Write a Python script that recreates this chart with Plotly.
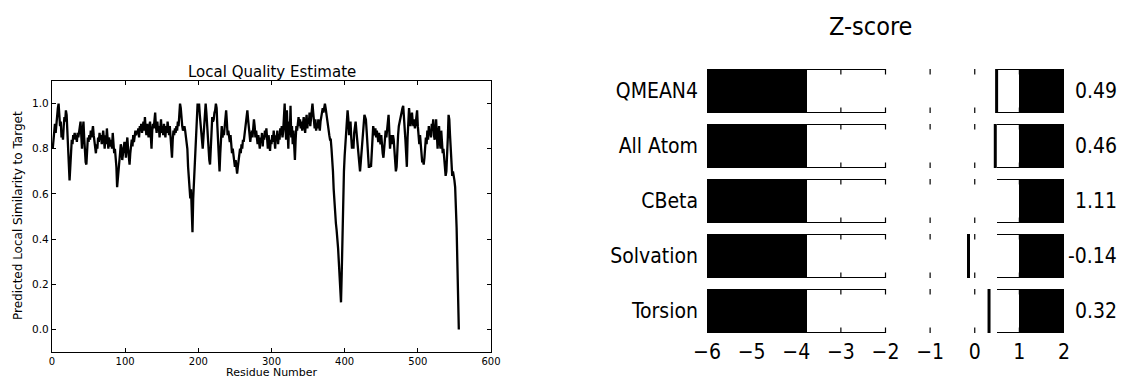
import plotly.graph_objects as go

# ---------------- data ----------------
local_quality = [
    0.80,0.83,0.88,0.91,0.87,0.92,0.95,0.98,1.00,0.93,0.90,0.92,0.85,0.88,0.84,0.90,0.94,0.92,0.97,0.95,
    0.88,0.83,0.74,0.66,0.72,0.80,0.84,0.82,0.86,0.85,0.87,0.84,0.86,0.83,0.87,0.85,0.88,0.91,0.92,0.86,
    0.80,0.88,0.92,0.85,0.78,0.74,0.73,0.78,0.85,0.83,0.86,0.84,0.88,0.85,0.87,0.90,0.86,0.84,0.80,0.78,
    0.82,0.80,0.85,0.83,0.87,0.84,0.86,0.82,0.85,0.88,0.84,0.80,0.86,0.82,0.89,0.84,0.80,0.85,0.83,0.81,
    0.84,0.80,0.87,0.82,0.78,0.80,0.76,0.72,0.63,0.66,0.70,0.74,0.78,0.82,0.80,0.75,0.77,0.80,0.83,0.81,
    0.76,0.82,0.85,0.80,0.76,0.73,0.78,0.80,0.84,0.81,0.86,0.83,0.85,0.88,0.86,0.88,0.87,0.89,0.85,0.90,
    0.88,0.91,0.87,0.90,0.92,0.88,0.94,0.89,0.86,0.91,0.88,0.85,0.90,0.92,0.86,0.80,0.88,0.91,0.89,0.93,
    0.96,0.90,0.87,0.92,0.88,0.90,0.85,0.89,0.93,0.87,0.90,0.86,0.91,0.88,0.85,0.90,0.87,0.92,0.89,0.86,
    0.90,0.84,0.80,0.76,0.84,0.88,0.86,0.89,0.87,0.90,0.88,0.92,0.90,0.95,1.00,0.98,0.92,0.90,0.88,0.89,
    0.90,0.88,0.86,0.84,0.80,0.72,0.66,0.60,0.58,0.62,0.50,0.43,0.58,0.65,0.75,0.82,0.90,0.96,1.00,0.98,
    1.00,0.95,0.90,0.86,0.82,0.80,0.85,0.92,0.98,1.00,0.96,0.90,0.85,0.80,0.75,0.73,0.80,0.88,0.94,0.92,
    0.93,0.96,0.97,1.00,0.98,0.90,0.80,0.72,0.70,0.78,0.88,0.90,0.85,0.87,0.86,0.90,0.95,0.97,0.92,0.86,
    0.88,0.85,0.83,0.86,0.82,0.78,0.80,0.76,0.74,0.72,0.75,0.71,0.69,0.72,0.76,0.78,0.80,0.78,0.82,0.80,
    0.84,0.83,0.86,0.88,0.92,0.95,0.97,0.93,0.90,0.86,0.83,0.86,0.88,0.85,0.90,0.93,0.90,0.85,0.88,0.84,
    0.82,0.86,0.84,0.80,0.85,0.83,0.87,0.81,0.86,0.84,0.88,0.85,0.89,0.84,0.80,0.86,0.83,0.79,0.84,0.82,
    0.86,0.83,0.88,0.85,0.80,0.86,0.84,0.88,0.82,0.86,0.84,0.89,0.86,0.90,0.85,0.88,0.92,1.00,0.90,0.84,
    0.97,0.88,0.80,0.92,0.86,0.99,0.85,0.90,0.82,0.88,0.78,0.75,0.84,0.90,0.88,0.92,0.94,0.90,0.93,0.89,
    0.92,0.88,0.91,0.94,0.90,0.87,0.92,0.95,0.89,0.93,0.91,0.96,0.90,0.94,0.97,1.00,0.96,0.92,0.89,0.93,
    0.88,0.91,0.89,0.93,0.90,0.88,0.92,0.95,0.97,0.98,0.96,0.99,1.00,0.98,0.95,0.92,0.90,0.88,0.86,0.84,
    0.84,0.80,0.76,0.70,0.62,0.55,0.50,0.47,0.44,0.41,0.36,0.30,0.24,0.18,0.12,0.25,0.45,0.60,0.70,0.77,
    0.82,0.88,0.92,0.97,0.93,0.86,0.90,0.92,0.85,0.80,0.84,0.80,0.87,0.90,0.92,0.88,0.84,0.80,0.76,0.72,
    0.70,0.74,0.78,0.84,0.88,0.92,0.95,0.94,0.93,0.88,0.82,0.76,0.72,0.72,0.73,0.72,0.78,0.86,0.90,0.88,
    0.86,0.89,0.85,0.88,0.86,0.83,0.87,0.85,0.82,0.86,0.80,0.78,0.76,0.82,0.86,0.88,0.85,0.90,0.93,0.95,
    0.88,0.80,0.84,0.86,0.82,0.86,0.84,0.80,0.75,0.70,0.72,0.82,0.86,0.90,0.92,0.93,0.95,0.97,0.98,0.99,
    0.95,0.90,0.84,0.78,0.72,0.85,0.95,0.98,0.94,0.90,0.93,0.96,0.92,0.90,0.93,0.89,0.91,0.94,0.97,0.90,
    0.86,0.82,0.86,0.80,0.76,0.74,0.75,0.73,0.76,0.80,0.85,0.82,0.88,0.84,0.90,0.86,0.88,0.85,0.91,0.88,
    0.93,0.86,0.84,0.88,0.93,0.86,0.80,0.86,0.90,0.83,0.80,0.88,0.82,0.78,0.80,0.76,0.72,0.68,0.70,0.75,
    0.85,0.95,0.93,0.86,0.78,0.72,0.68,0.70,0.66,0.66,0.63,0.55,0.45,0.30,0.15,0.00,
]
residues = list(range(1, len(local_quality) + 1))
lq_xticks = [0, 100, 200, 300, 400, 500, 600]
lq_yticks = [0.0, 0.2, 0.4, 0.6, 0.8, 1.0]

categories = ["QMEAN4", "All Atom", "CBeta", "Solvation", "Torsion"]
z_scores = [0.49, 0.46, 1.11, -0.14, 0.32]
z_labels = ["0.49", "0.46", "1.11", "-0.14", "0.32"]
z_ticks = [-6, -5, -4, -3, -2, -1, 0, 1, 2]
z_tick_text = ["\u22126", "\u22125", "\u22124", "\u22123", "\u22122", "\u22121", "0", "1", "2"]
band_outer = (-6, 2)
band_good = (-3.75, 1)
band_core = (-2, 0.5)

W, H = 1123, 378
def px_x(p): return p / W
def px_y(p): return 1 - p / H

fig = go.Figure()

# ---------- left: local quality ----------
fig.add_trace(go.Scatter(x=residues, y=local_quality, mode="lines",
                         line=dict(color="black", width=2.3), xaxis="x", yaxis="y",
                         showlegend=False, hoverinfo="skip"))

# ---------- right: z-score bars ----------
n = len(categories)
ypos = [n - 1 - i for i in range(n)]
fig.add_trace(go.Bar(orientation="h", y=ypos, x=[band_outer[1] - band_outer[0]] * n,
                     base=[band_outer[0]] * n, width=0.8, marker=dict(color="black", line=dict(width=0)),
                     xaxis="x2", yaxis="y2", showlegend=False, hoverinfo="skip"))
fig.add_trace(go.Bar(orientation="h", y=ypos, x=[band_good[1] - band_good[0]] * n,
                     base=[band_good[0]] * n, width=0.75, marker=dict(color="white", line=dict(width=0)),
                     xaxis="x2", yaxis="y2", showlegend=False, hoverinfo="skip"))
fig.add_trace(go.Bar(orientation="h", y=ypos, x=[band_core[1] - band_core[0]] * n,
                     base=[band_core[0]] * n, width=0.79, marker=dict(color="white", line=dict(width=0)),
                     xaxis="x2", yaxis="y2", showlegend=False, hoverinfo="skip"))

# score markers
for yv, s in zip(ypos, z_scores):
    fig.add_trace(go.Scatter(x=[s, s], y=[yv - 0.4, yv + 0.4], mode="lines",
                             line=dict(color="black", width=3),
                             xaxis="x2", yaxis="y2", showlegend=False, hoverinfo="skip"))

# per-row tick marks (top and bottom of every row), drawn above the bars
shapes = []
for yv in ypos:
    for t in z_ticks:
        for sgn in (1, -1):
            shapes.append(dict(type="line", xref="x2", yref="y2", x0=t, x1=t,
                               y0=yv + sgn * 0.4, y1=yv + sgn * 0.3, layer="above",
                               line=dict(color="black", width=1.2)))

left_font = "DejaVu Sans, Verdana, sans-serif"
right_font = "DejaVu Sans Condensed, DejaVu Sans, sans-serif"

axis_common = dict(showline=True, linecolor="black", linewidth=1.2, mirror="ticks",
                   ticks="inside", ticklen=4, tickcolor="black", showgrid=False, zeroline=False,
                   automargin=False)

fig.update_layout(
    width=W, height=H, margin=dict(l=0, r=0, t=0, b=0, autoexpand=False),
    paper_bgcolor="white", plot_bgcolor="white", barmode="overlay", bargap=0,
    shapes=shapes,
    xaxis=dict(domain=[px_x(52), px_x(491)], range=[0, 600], tickvals=lq_xticks,
               tickfont=dict(family=left_font, size=10, color="black"),
               anchor="y", **axis_common),
    yaxis=dict(domain=[px_y(352), px_y(81)], range=[-0.1, 1.1], tickvals=lq_yticks,
               tickformat=".1f", tickfont=dict(family=left_font, size=10.5, color="black"),
               anchor="x", **axis_common),
    xaxis2=dict(domain=[px_x(707), px_x(1064)], range=[-6, 2], tickvals=z_ticks, ticktext=z_tick_text,
                ticks="", showline=False, showgrid=False, zeroline=False, anchor="y2", automargin=False,
                ticklabelstandoff=4,
                tickfont=dict(family=right_font, size=21, color="black")),
    yaxis2=dict(domain=[px_y(333), px_y(69)], range=[-0.4, 4.4], tickvals=ypos, ticktext=categories,
                ticks="", showline=False, showgrid=False, zeroline=False, anchor="x2", automargin=False,
                ticklabelstandoff=8,
                tickfont=dict(family=right_font, size=21, color="black")),
    annotations=[
        dict(text="Local Quality Estimate", x=px_x(271.5), y=px_y(72), xref="paper", yref="paper",
             showarrow=False, font=dict(family=left_font, size=15, color="black"),
             xanchor="center", yanchor="middle"),
        dict(text="Residue Number", x=px_x(271.5), y=px_y(372), xref="paper", yref="paper",
             showarrow=False, font=dict(family=left_font, size=11, color="black"),
             xanchor="center", yanchor="middle"),
        dict(text="Predicted Local Similarity to Target", x=px_x(18), y=px_y(216), xref="paper", yref="paper",
             showarrow=False, textangle=-90, font=dict(family=left_font, size=12, color="black"),
             xanchor="center", yanchor="middle"),
        dict(text="Z-score", x=px_x(870), y=px_y(27), xref="paper", yref="paper",
             showarrow=False, font=dict(family=right_font, size=25, color="black"),
             xanchor="center", yanchor="middle"),
    ] + [
        dict(text=lab, x=px_x(1119), y=yv, xref="paper", yref="y2", showarrow=False,
             font=dict(family=right_font, size=21, color="black"), xanchor="right", yanchor="middle")
        for lab, yv in zip(z_labels, ypos)
    ],
)

fig.write_html("out.html", config={"displayModeBar": False},
               post_script="document.body.style.margin='0px';document.body.style.padding='0px';")
